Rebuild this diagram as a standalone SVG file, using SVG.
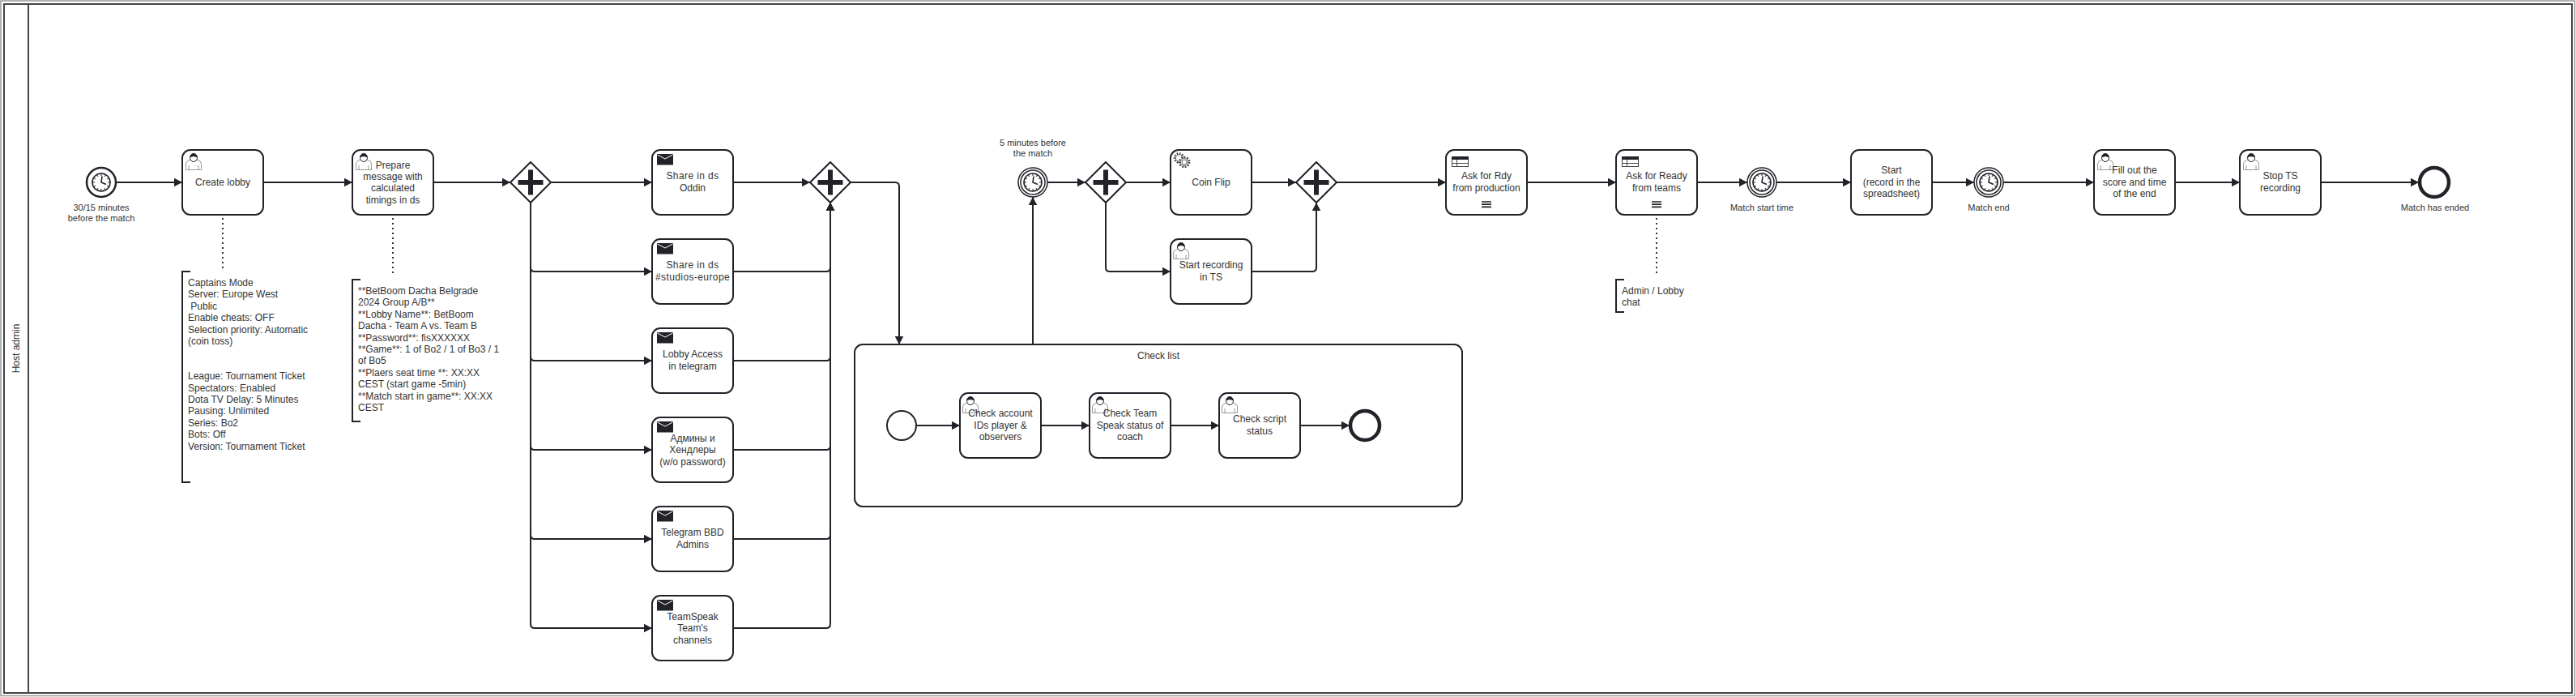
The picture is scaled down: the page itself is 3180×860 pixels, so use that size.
<svg xmlns="http://www.w3.org/2000/svg" width="3180" height="860" viewBox="0 0 3180 860">
<style>
text{font-family:"Liberation Sans",Arial,sans-serif;fill:#333}
.t{font-size:12px;text-anchor:middle}
.l{font-size:11px;text-anchor:middle}
.a{font-size:12px}
.task{fill:#fff;stroke:#222329;stroke-width:2}
.ev{fill:#fff;stroke:#222329;stroke-width:2.5}
.gw{fill:#fff;stroke:#222329;stroke-width:2;stroke-linejoin:round}
.flow{fill:none;stroke:#222329;stroke-width:2;marker-end:url(#arrow)}
.dot{fill:none;stroke:#333;stroke-width:2;stroke-dasharray:2 4}
.br{fill:none;stroke:#222329;stroke-width:2}
</style>
<defs>
<marker id="arrow" markerUnits="userSpaceOnUse" markerWidth="11" markerHeight="11" refX="10" refY="5.5" orient="auto"><path d="M0 0.25L10 5.5L0 10.75Z" fill="#222329"/></marker>
<symbol id="clock" overflow="visible"><circle r="11" fill="#fff" stroke="#222329" stroke-width="1.6"/><path d="M0-11V-8M0 11V8M-11 0H-8M11 0H8M-5.5-9.5L-4-7M5.5-9.5L4-7M-5.5 9.5L-4 7M5.5 9.5L4 7M-9.5-5.5L-7-4M9.5-5.5L7-4M-9.5 5.5L-7 4M9.5 5.5L7 4" fill="none" stroke="#222329" stroke-width="1"/><path d="M1-7.5L0 0L6 2.5" fill="none" stroke="#222329" stroke-width="1.6"/></symbol>
<symbol id="plus" overflow="visible"><path d="M-3-15.5H3V-3H15.5V3H3V15.5H-3V3H-15.5V-3H-3Z" fill="#222329"/></symbol>
<symbol id="user" overflow="visible"><path d="M0.5 20.5V13Q0.5 9.5 6 8Q10 12 14 8Q19.5 9.5 19.5 13V20.5ZM4 20.5V15M16 20.5V15" fill="#fff" stroke="#999" stroke-width="1"/><ellipse cx="10" cy="5.5" rx="4.5" ry="5" fill="#fff" stroke="#222329" stroke-width="1"/><path d="M5.5 5.5A4.5 5 0 0 1 14.5 5.5Q10 2.5 5.5 5.5Z" fill="#222329"/></symbol>
<symbol id="mail" overflow="visible"><rect width="20" height="13.5" fill="#222329"/><path d="M0.5 1L10 6L19.5 1" fill="none" stroke="#fff" stroke-width="1"/></symbol>
<symbol id="table" overflow="visible"><rect x="0.5" y="0.5" width="20" height="12" fill="#fff" stroke="#444" stroke-width="1"/><rect width="21" height="4" fill="#222329"/><path d="M0.5 8.5H20.5M6.5 4V12.5" fill="none" stroke="#444" stroke-width="1"/></symbol>
<symbol id="menu" overflow="visible"><path d="M-6 0H6M-6 3.2H6M-6 6.4H6" fill="none" stroke="#222329" stroke-width="1.7"/></symbol>
<symbol id="gear" overflow="visible"><circle cx="6.5" cy="7" r="5.5" fill="#fff" stroke="#444" stroke-width="2.6" stroke-dasharray="1.6 1.6"/><circle cx="6.5" cy="7" r="4.2" fill="#fff" stroke="#444" stroke-width="0.8"/><circle cx="13" cy="12" r="6" fill="#fff" stroke="#444" stroke-width="2.6" stroke-dasharray="1.7 1.7"/><circle cx="13" cy="12" r="4.7" fill="#fff" stroke="#444" stroke-width="0.8"/><circle cx="13" cy="12" r="3" fill="#fff" stroke="#444" stroke-width="0.8"/></symbol>
</defs>
<rect width="3180" height="860" fill="#fff"/>
<g id="pool">
<rect x="1" y="1" width="3177.5" height="857.5" fill="none" stroke="#999" stroke-width="1.5"/>
<rect x="5" y="5" width="3170" height="850" fill="none" stroke="#444" stroke-width="2"/>
<path d="M35 5V855" fill="none" stroke="#444" stroke-width="2"/>
<text class="t" transform="translate(24 430) rotate(-90)">Host admin</text>
</g>
<g id="subprocess-check-list">
<rect class="task" x="1055" y="425" width="750" height="200" rx="10"/>
<text class="t" x="1430" y="443">Check list</text>
</g>
<g id="connectors">
<path class="flow" d="M143 225H225"/>
<path class="flow" d="M325 225H435"/>
<path class="flow" d="M535 225H630"/>
<path class="flow" d="M680 225H805"/>
<path class="flow" d="M655 250V330Q655 335 660 335H805"/>
<path class="flow" d="M655 250V440Q655 445 660 445H805"/>
<path class="flow" d="M655 250V550Q655 555 660 555H805"/>
<path class="flow" d="M655 250V660Q655 665 660 665H805"/>
<path class="flow" d="M655 250V770Q655 775 660 775H805"/>
<path class="flow" d="M905 225H1000"/>
<path class="flow" d="M905 335H1020Q1025 335 1025 330V250"/>
<path class="flow" d="M905 445H1020Q1025 445 1025 440V250"/>
<path class="flow" d="M905 555H1020Q1025 555 1025 550V250"/>
<path class="flow" d="M905 665H1020Q1025 665 1025 660V250"/>
<path class="flow" d="M905 775H1020Q1025 775 1025 770V250"/>
<path class="flow" d="M1050 225H1105Q1110 225 1110 230V425"/>
<path class="flow" d="M1275 425V243"/>
<path class="flow" d="M1293 225H1340"/>
<path class="flow" d="M1390 225H1445"/>
<path class="flow" d="M1365 250V330Q1365 335 1370 335H1445"/>
<path class="flow" d="M1545 225H1600"/>
<path class="flow" d="M1545 335H1620Q1625 335 1625 330V250"/>
<path class="flow" d="M1650 225H1785"/>
<path class="flow" d="M1885 225H1995"/>
<path class="flow" d="M2095 225H2157"/>
<path class="flow" d="M2193 225H2285"/>
<path class="flow" d="M2385 225H2437"/>
<path class="flow" d="M2473 225H2585"/>
<path class="flow" d="M2685 225H2765"/>
<path class="flow" d="M2865 225H2986"/>
<path class="flow" d="M1131 525H1185"/>
<path class="flow" d="M1285 525H1345"/>
<path class="flow" d="M1445 525H1505"/>
<path class="flow" d="M1605 525H1666"/>
<path class="dot" d="M275 269V331"/>
<path class="dot" d="M485 269V341"/>
<path class="dot" d="M2045 269V341"/>
</g>
<g id="start-timer">
<circle class="ev" cx="125" cy="225" r="18"/>
<use href="#clock" x="125" y="225"/>
<text class="l"><tspan x="125" y="260">30/15 minutes</tspan><tspan x="125" y="273">before the match</tspan></text>
</g>
<g id="task-create-lobby">
<rect class="task" x="225" y="185" width="100" height="80" rx="10"/>
<use href="#user" x="229" y="189"/>
<text class="t" x="275" y="229">Create lobby</text>
</g>
<g id="task-prepare-message">
<rect class="task" x="435" y="185" width="100" height="80" rx="10"/>
<use href="#user" x="439" y="189"/>
<text class="t"><tspan x="485" y="207.6">Prepare</tspan><tspan x="485" y="222">message with</tspan><tspan x="485" y="236.4">calculated</tspan><tspan x="485" y="250.8">timings in ds</tspan></text>
</g>
<g id="note-create-lobby">
<path class="br" d="M235 335H225V595H235"/>
<text class="a"><tspan x="232" y="353">Captains Mode</tspan><tspan x="232" y="367.4">Server: Europe West</tspan><tspan x="235.3" y="381.8">Public</tspan><tspan x="232" y="396.2">Enable cheats: OFF</tspan><tspan x="232" y="410.6">Selection priority: Automatic</tspan><tspan x="232" y="425">(coin toss)</tspan><tspan x="232" y="468.2">League: Tournament Ticket</tspan><tspan x="232" y="482.6">Spectators: Enabled</tspan><tspan x="232" y="497">Dota TV Delay: 5 Minutes</tspan><tspan x="232" y="511.4">Pausing: Unlimited</tspan><tspan x="232" y="525.8">Series: Bo2</tspan><tspan x="232" y="540.2">Bots: Off</tspan><tspan x="232" y="554.6">Version: Tournament Ticket</tspan></text>
</g>
<g id="note-prepare-message">
<path class="br" d="M445 345H435V520H445"/>
<text class="a"><tspan x="442" y="363">**BetBoom Dacha Belgrade</tspan><tspan x="442" y="377.4">2024 Group A/B**</tspan><tspan x="442" y="391.8">**Lobby Name**: BetBoom</tspan><tspan x="442" y="406.2">Dacha - Team A vs. Team B</tspan><tspan x="442" y="420.6">**Password**: fisXXXXXX</tspan><tspan x="442" y="435">**Game**: 1 of Bo2 / 1 of Bo3 / 1</tspan><tspan x="442" y="449.4">of Bo5</tspan><tspan x="442" y="463.8">**Plaers seat time **: XX:XX</tspan><tspan x="442" y="478.2">CEST (start game -5min)</tspan><tspan x="442" y="492.6">**Match start in game**: XX:XX</tspan><tspan x="442" y="507">CEST</tspan></text>
</g>
<g id="gateway-split-1">
<path class="gw" d="M655 200L680 225L655 250L630 225Z"/>
<use href="#plus" x="655" y="225"/>
</g>
<g id="task-share-oddin">
<rect class="task" x="805" y="185" width="100" height="80" rx="10"/>
<use href="#mail" x="811" y="190"/>
<text class="t"><tspan x="855" y="221" style="letter-spacing:.4px">Share in ds</tspan><tspan x="855" y="236">Oddin</tspan></text>
</g>
<g id="task-share-studios">
<rect class="task" x="805" y="295" width="100" height="80" rx="10"/>
<use href="#mail" x="811" y="300"/>
<text class="t"><tspan x="855" y="331" style="letter-spacing:.4px">Share in ds</tspan><tspan x="855" y="346" style="letter-spacing:.4px">#studios-europe</tspan></text>
</g>
<g id="task-lobby-access">
<rect class="task" x="805" y="405" width="100" height="80" rx="10"/>
<use href="#mail" x="811" y="410"/>
<text class="t"><tspan x="855" y="441">Lobby Access</tspan><tspan x="855" y="456">in telegram</tspan></text>
</g>
<g id="task-admins-handlers">
<rect class="task" x="805" y="515" width="100" height="80" rx="10"/>
<use href="#mail" x="811" y="520"/>
<text class="t"><tspan x="855" y="544.8">Админы и</tspan><tspan x="855" y="559.2">Хендлеры</tspan><tspan x="855" y="573.6">(w/o password)</tspan></text>
</g>
<g id="task-telegram-admins">
<rect class="task" x="805" y="625" width="100" height="80" rx="10"/>
<use href="#mail" x="811" y="630"/>
<text class="t"><tspan x="855" y="661">Telegram BBD</tspan><tspan x="855" y="676">Admins</tspan></text>
</g>
<g id="task-teamspeak">
<rect class="task" x="805" y="735" width="100" height="80" rx="10"/>
<use href="#mail" x="811" y="740"/>
<text class="t"><tspan x="855" y="764.8">TeamSpeak</tspan><tspan x="855" y="779.2">Team's</tspan><tspan x="855" y="793.6">channels</tspan></text>
</g>
<g id="gateway-join-1">
<path class="gw" d="M1025 200L1050 225L1025 250L1000 225Z"/>
<use href="#plus" x="1025" y="225"/>
</g>
<g id="timer-5-minutes">
<circle class="ev" cx="1275" cy="225" r="18" style="stroke-width:1.5"/>
<circle class="ev" cx="1275" cy="225" r="15" style="stroke-width:1.5"/>
<use href="#clock" x="1275" y="225"/>
<text class="l"><tspan x="1275" y="180">5 minutes before</tspan><tspan x="1275" y="193">the match</tspan></text>
</g>
<g id="gateway-split-2">
<path class="gw" d="M1365 200L1390 225L1365 250L1340 225Z"/>
<use href="#plus" x="1365" y="225"/>
</g>
<g id="task-coin-flip">
<rect class="task" x="1445" y="185" width="100" height="80" rx="10"/>
<use href="#gear" x="1449" y="188"/>
<text class="t" x="1495" y="229">Coin Flip</text>
</g>
<g id="task-start-recording">
<rect class="task" x="1445" y="295" width="100" height="80" rx="10"/>
<use href="#user" x="1448" y="299"/>
<text class="t"><tspan x="1495" y="331">Start recording</tspan><tspan x="1495" y="346">in TS</tspan></text>
</g>
<g id="gateway-join-2">
<path class="gw" d="M1625 200L1650 225L1625 250L1600 225Z"/>
<use href="#plus" x="1625" y="225"/>
</g>
<g id="task-rdy-production">
<rect class="task" x="1785" y="185" width="100" height="80" rx="10"/>
<use href="#table" x="1792" y="193"/>
<use href="#menu" x="1835" y="249"/>
<text class="t"><tspan x="1835" y="221">Ask for Rdy</tspan><tspan x="1835" y="236">from production</tspan></text>
</g>
<g id="task-ready-teams">
<rect class="task" x="1995" y="185" width="100" height="80" rx="10"/>
<use href="#table" x="2002" y="193"/>
<use href="#menu" x="2045" y="249"/>
<text class="t"><tspan x="2045" y="221">Ask for Ready</tspan><tspan x="2045" y="236">from teams</tspan></text>
</g>
<g id="note-ready-teams">
<path class="br" d="M2005 345H1995V385H2005"/>
<text class="a"><tspan x="2002" y="363">Admin / Lobby</tspan><tspan x="2002" y="377">chat</tspan></text>
</g>
<g id="timer-match-start">
<circle class="ev" cx="2175" cy="225" r="18" style="stroke-width:1.5"/>
<circle class="ev" cx="2175" cy="225" r="15" style="stroke-width:1.5"/>
<use href="#clock" x="2175" y="225"/>
<text class="l" x="2175" y="260">Match start time</text>
</g>
<g id="task-start-record">
<rect class="task" x="2285" y="185" width="100" height="80" rx="10"/>
<text class="t"><tspan x="2335" y="214">Start</tspan><tspan x="2335" y="229">(record in the</tspan><tspan x="2335" y="243">spreadsheet)</tspan></text>
</g>
<g id="timer-match-end">
<circle class="ev" cx="2455" cy="225" r="18" style="stroke-width:1.5"/>
<circle class="ev" cx="2455" cy="225" r="15" style="stroke-width:1.5"/>
<use href="#clock" x="2455" y="225"/>
<text class="l" x="2455" y="260">Match end</text>
</g>
<g id="task-fill-score">
<rect class="task" x="2585" y="185" width="100" height="80" rx="10"/>
<use href="#user" x="2589" y="189"/>
<text class="t"><tspan x="2635" y="214">Fill out the</tspan><tspan x="2635" y="229">score and time</tspan><tspan x="2635" y="243">of the end</tspan></text>
</g>
<g id="task-stop-recording">
<rect class="task" x="2765" y="185" width="100" height="80" rx="10"/>
<use href="#user" x="2769" y="189"/>
<text class="t"><tspan x="2815" y="221">Stop TS</tspan><tspan x="2815" y="236">recording</tspan></text>
</g>
<g id="end-match">
<circle class="ev" cx="3005" cy="225" r="18" style="stroke-width:4.5"/>
<text class="l" x="3006" y="260">Match has ended</text>
</g>
<g id="inner-start">
<circle class="ev" cx="1113" cy="525" r="18" style="stroke-width:2"/>
</g>
<g id="task-check-account">
<rect class="task" x="1185" y="485" width="100" height="80" rx="10"/>
<use href="#user" x="1188" y="489"/>
<text class="t"><tspan x="1235" y="514">Check account</tspan><tspan x="1235" y="529">IDs player &amp;</tspan><tspan x="1235" y="543">observers</tspan></text>
</g>
<g id="task-check-team-speak">
<rect class="task" x="1345" y="485" width="100" height="80" rx="10"/>
<use href="#user" x="1348" y="489"/>
<text class="t"><tspan x="1395" y="514">Check Team</tspan><tspan x="1395" y="529">Speak status of</tspan><tspan x="1395" y="543">coach</tspan></text>
</g>
<g id="task-check-script">
<rect class="task" x="1505" y="485" width="100" height="80" rx="10"/>
<use href="#user" x="1508" y="489"/>
<text class="t"><tspan x="1555" y="521">Check script</tspan><tspan x="1555" y="536">status</tspan></text>
</g>
<g id="inner-end">
<circle class="ev" cx="1685" cy="525" r="18" style="stroke-width:4.5"/>
</g>
</svg>
